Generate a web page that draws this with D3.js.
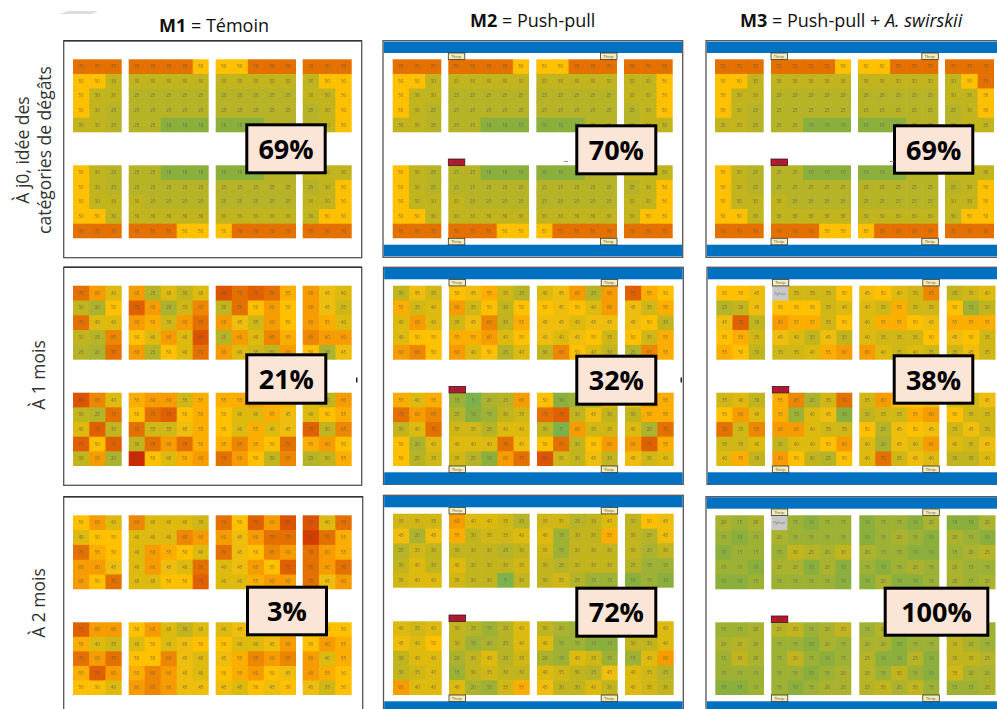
<!DOCTYPE html>
<html>
<head>
<meta charset="utf-8">
<script src="https://cdnjs.cloudflare.com/ajax/libs/d3/7.8.5/d3.min.js"></script>
<style>
    html, body { margin: 0; padding: 0; background: #fff; }
    svg { display: block; font-family: "Open Sans", sans-serif; }
</style>
</head>
<body>
<svg id="svg1" width="997" height="709"></svg>
<script>
// damage scores, 10 rows x 16 plants, null = plant replaced (Python)
var m1j0 = [
    [70,70,70, 70,70,70,70,50, 50,50,70,70,70, 70,70,70],
    [50,50,30, 30,30,30,30,30, 30,30,30,30,30, 30,50,50],
    [50,30,30, 25,25,25,25,25, 25,25,25,25,25, 30,30,50],
    [50,30,25, 25,25,25,25,25, 25,25,25,25,25, 25,30,50],
    [30,30,25, 25,25,10,10,10, 10,10,10,25,25, 25,30,50],
    [50,30,25, 25,25,10,10,10, 10,10,10,25,25, 30,30,30],
    [50,30,25, 25,25,25,25,25, 25,25,25,25,25, 25,30,50],
    [50,30,30, 30,25,25,25,25, 25,25,25,25,25, 30,30,50],
    [50,50,30, 30,30,30,30,30, 30,30,30,30,30, 30,50,50],
    [70,70,70, 70,70,70,50,50, 50,70,70,70,70, 70,70,70]
];
var m2j0 = [
    [70,70,70, 70,70,70,70,50, 50,50,70,70,70, 70,70,70],
    [50,50,30, 30,30,30,30,30, 30,30,30,30,30, 30,30,50],
    [50,30,30, 25,25,25,25,25, 25,25,25,25,25, 30,30,50],
    [50,30,25, 25,25,25,25,25, 25,25,25,25,25, 25,30,50],
    [30,30,25, 25,25,10,10,10, 10,10,10,25,25, 25,30,30],
    [50,30,25, 25,25,10,10,10, 10,10,10,25,25, 30,30,30],
    [50,30,25, 25,25,25,25,25, 25,25,25,25,25, 25,30,50],
    [50,30,30, 30,25,25,25,25, 25,25,25,25,25, 30,30,50],
    [50,50,30, 30,30,30,30,30, 30,30,30,30,30, 30,50,50],
    [70,70,70, 70,70,70,50,50, 50,70,70,70,70, 70,70,70]
];
var m3j0 = [
    [70,70,70, 70,70,70,70,50, 50,50,70,70,70, 70,70,70],
    [50,50,30, 30,30,30,30,30, 30,30,30,30,30, 30,50,70],
    [50,30,30, 25,25,25,25,25, 25,25,25,25,25, 30,30,50],
    [50,30,25, 25,25,25,25,25, 25,25,25,25,25, 25,30,50],
    [30,30,25, 25,25,10,10,10, 10,10,10,25,25, 25,30,30],
    [50,30,25, 25,25,10,10,10, 10,10,10,25,25, 30,30,30],
    [50,30,25, 25,25,25,25,25, 25,25,25,25,25, 25,30,50],
    [50,30,30, 30,25,25,25,25, 25,25,25,25,25, 30,30,50],
    [50,50,30, 30,30,30,30,30, 30,30,30,30,30, 30,50,50],
    [70,70,70, 70,70,70,50,50, 50,70,70,70,70, 70,70,70]
];
var m1mois1 = [
    [70,60,40, 60,25,40,30,40, 80,70,75,70,55, 60,45,40],
    [30,20,50, 75,60,20,35,65, 30,70,50,60,50, 60,45,35],
    [70,40,40, 60,55,35,60,70, 60,45,35,60,50, 60,55,40],
    [30,25,65, 50,40,60,40,80, 25,60,40,65,55, 65,60,60],
    [25,20,70, 60,25,50,40,70, 60,40,35,30,60, 50,20,45],
    [80,65,40, 55,60,60,35,55, 55,55,60,55,55, 40,30,60],
    [30,25,70, 50,70,75,50,55, 50,40,40,55,45, 40,50,55],
    [40,75,30, 70,35,35,45,55, 50,40,55,40,45, 75,30,65],
    [75,50,75, 30,70,60,70,55, 55,65,55,50,70, 55,60,50],
    [30,60,20, 90,50,40,55,60, 70,60,50,30,65, 25,30,55]
];
var m2mois1 = [
    [30,45,35, 50,45,55,35,25, 40,45,60,25,60, 75,55,50],
    [55,35,40, 60,35,50,30,50, 50,45,50,40,60, 45,35,55],
    [40,60,40, 35,45,65,30,55, 45,45,40,45,45, 45,50,30],
    [40,50,50, 55,55,60,40,50, 45,40,45,50,35, 50,35,55],
    [60,65,50, 60,40,50,25,40, 30,65,50,40,30, 25,65,55],
    [55,40,55, 15,5,20,25,60, 50,10,15,15,55, 45,60,55],
    [70,60,65, 25,10,15,30,35, 70,75,30,45,30, 30,55,55],
    [30,40,70, 35,35,25,40,40, 30,5,60,35,35, 40,20,70],
    [50,20,40, 40,40,40,70,45, 50,70,30,50,60, 60,75,55],
    [50,25,35, 35,25,10,60,70, 80,35,30,45,30, 45,35,40]
];
var m3mois1 = [
    [50,50,45, null,35,35,35,50, 45,50,40,35,65, 30,35,40],
    [25,30,45, 50,50,50,35,40, 40,35,55,35,35, 50,15,30],
    [45,75,30, 60,55,55,35,50, 40,55,55,50,45, 55,55,55],
    [50,55,35, 45,40,30,45,30, 40,35,35,35,50, 45,50,35],
    [55,50,30, 35,35,40,55,60, 60,40,35,40,35, 35,45,35],
    [35,40,30, 55,65,20,35,70, 35,60,50,50,45, 35,35,45],
    [50,60,40, 55,15,40,45,10, 30,35,35,55,60, 50,35,35],
    [70,35,65, 60,60,40,35,35, 50,25,45,50,45, 35,45,35],
    [35,35,40, 30,40,40,50,60, 40,20,45,40,60, 40,35,45],
    [40,55,30, 60,50,30,25,50, 40,70,35,45,40, 30,30,40]
];
var m1mois2 = [
    [50,60,40, 65,40,40,40,35, 70,50,75,60,80, 80,40,70],
    [40,50,50, 40,40,40,65,60, 60,45,60,70,70, 85,70,55],
    [70,55,50, 40,60,55,50,40, 70,45,50,65,60, 70,60,55],
    [60,60,45, 40,60,45,40,70, 40,45,60,50,75, 70,60,70],
    [60,50,70, 40,40,50,50,75, 40,40,55,60,60, 70,45,60],
    [75,60,60, 50,60,40,30,40, 40,45,50,50,50, 50,50,50],
    [55,40,35, 40,50,40,45,50, 50,40,40,45,60, 50,60,55],
    [70,60,70, 50,50,65,45,40, 45,55,65,60,65, 60,40,55],
    [55,75,60, 55,65,60,45,40, 50,55,60,50,45, 60,55,50],
    [50,50,40, 60,65,60,45,45, 45,40,50,45,50, 45,35,50]
];
var m2mois2 = [
    [35,35,35, 60,40,40,35,25, 35,35,25,30,40, 30,50,45],
    [45,20,45, 55,30,35,35,40, 40,15,30,30,55, 30,25,45],
    [25,35,30, 30,30,30,25,30, 35,15,30,30,30, 30,20,30],
    [30,40,30, 40,30,30,30,35, 30,25,30,30,30, 25,15,15],
    [35,40,40, 35,30,30,5,30, 30,35,25,15,15, 10,15,10],
    [40,35,40, 30,25,15,25,40, 30,20,15,15,15, 30,30,40],
    [45,40,50, 30,15,20,25,40, 40,15,15,10,10, 30,30,40],
    [30,40,40, 20,30,40,25,35, 20,15,40,35,15, 15,40,60],
    [30,35,40, 15,30,35,30,30, 40,35,30,25,45, 40,35,25],
    [60,40,40, 40,20,15,35,55, 45,30,30,40,30, 40,35,30]
];
var m3mois2 = [
    [20,15,20, null,15,10,15,15, 10,15,15,10,20, 10,10,20],
    [15,10,15, 20,15,15,15,15, 10,15,20,15,10, 20,15,10],
    [10,15,15, 15,30,25,20,30, 20,15,15,10,10, 15,20,25],
    [15,15,10, 20,20,10,20,10, 15,10,15,20,15, 20,15,15],
    [10,10,15, 15,15,15,15,10, 10,20,10,10,15, 20,15,20],
    [15,15,20, 25,30,15,20,30, 15,25,20,15,15, 15,20,15],
    [20,25,20, 15,15,10,20,15, 20,20,10,15,15, 30,20,15],
    [15,30,20, 15,30,15,10,15, 25,10,10,25,10, 30,30,25],
    [15,15,15, 15,15,10,15,20, 25,15,30,15,10, 35,20,20],
    [10,10,15, 15,10,15,20,20, 25,30,20,30,15, 15,15,20]
];

var columnTitles = [
    [['M1', 'bold'], [' = Témoin', 'normal']],
    [['M2', 'bold'], [' = Push-pull', 'normal']],
    [['M3', 'bold'], [' = Push-pull + ', 'normal'], ['A. swirskii', 'italic']]
];
var rowTitles = [['À j0, idée des', 'catégories de dégâts'], ['À 1 mois'], ['À 2 mois']];
var percents = ['69%', '70%', '69%', '21%', '32%', '38%', '3%', '72%', '100%'];
var grids = [m1j0, m2j0, m3j0, m1mois1, m2mois1, m3mois1, m1mois2, m2mois2, m3mois2];
var blockSizes = [3, 5, 5, 3];

var scoreDomain = [5, 10, 15, 25, 30, 40, 50, 60, 70, 80, 90];
var scoreColors = ['#7DB14B', '#8BAF3C', '#9DB135', '#B6B327', '#C2B41E', '#DDBA0F', '#FFC000',
    '#F69C00', '#E47000', '#DC5200', '#CB2A00'];

// where each of the nine plots sits on the page
var xM1 = [[73, 121.7], [128.7, 208.7], [215.7, 296], [302.7, 351.7]];
var xM2 = [[392.7, 441.3], [448.3, 529], [536.3, 617], [624, 672.7]];
var xM2b = [[393, 441.7], [449, 529.7], [537, 617.7], [625, 673.7]];
var xM3 = [[715, 763.7], [771, 851], [858, 938.3], [945, 994]];
var xM3b = [[716.3, 765], [772.3, 852.3], [859.3, 939.3], [946.7, 995.5]];
var xM3c = [[715.3, 764], [771.3, 851.3], [859.3, 939.3], [946.7, 995.5]];
var plots = [
    {frame: [63.7, 361.7, 40.7, 257.7], xs: xM1, ys: [[59.3, 132.3], [165.3, 238.3]], badge: [245.3, 326.7, 123.3, 174.3]},
    {frame: [383, 682.7, 40.7, 257.3], xs: xM2, ys: [[59.3, 132.3], [165.3, 238.3]], badge: [575.3, 657.3, 124.3, 175.3], blue: [[41.7, 53], [244.7, 256.3]]},
    {frame: [706, 1000, 40.7, 257.3], xs: xM3, ys: [[59.3, 132.3], [165.3, 238.3]], badge: [893, 974.3, 124.3, 174.7], blue: [[41.7, 53], [244.7, 256.3]]},
    {frame: [63.7, 361.7, 267.3, 485.3], xs: xM1, ys: [[285.7, 359.7], [392.7, 466]], badge: [245.3, 327.3, 353.3, 404.7]},
    {frame: [383.5, 683.3, 267.3, 484.3], xs: xM2b, ys: [[285.7, 359.7], [392.7, 466]], badge: [575.3, 657.3, 354.7, 405.7], blue: [[268, 279.3], [472.3, 484.3]]},
    {frame: [707, 1000, 267.3, 484.3], xs: xM3b, ys: [[285.7, 359.7], [392.7, 466]], badge: [892.7, 974.3, 354.3, 404.7], blue: [[268, 279.3], [472.3, 484.3]]},
    {frame: [63.7, 362.7, 496.7, 715], xs: xM1, ys: [[515.3, 589.3], [622.3, 695]], badge: [246, 328, 585.7, 636.3]},
    {frame: [383.5, 683.3, 495.3, 715], xs: xM2b, ys: [[513.7, 587.7], [621.3, 695]], badge: [575.3, 657.3, 586.7, 637.7], blue: [[496, 507.3], [701.3, 712]]},
    {frame: [706, 1000, 496.7, 715], xs: xM3c, ys: [[515.3, 589.3], [622.3, 695]], badge: [883.7, 989.3, 586.7, 636.7], blue: [[497.3, 508.7], [701.3, 712]]}
];

d3.select(window).on('load', init);

function init() {

    var svg = d3.select('svg');

    var color = d3.scaleLinear()
        .domain(scoreDomain)
        .range(scoreColors);

    // the source is a shrunken bitmap, cells bleed a little into each other
    svg.append('defs').append('filter')
        .attr('id', 'soft')
        .append('feGaussianBlur')
        .attr('stdDeviation', 0.45);

    plots.forEach(function (plot, i) {
        drawPlot(svg.append('g'), plot, grids[i], percents[i], color);
    });

    // column titles
    var titleX = [159, 470, 740];
    var titleY = [32, 27, 27];
    columnTitles.forEach(function (parts, i) {
        var t = svg.append('text')
            .attr('x', titleX[i])
            .attr('y', titleY[i])
            .attr('font-size', 18)
            .attr('fill', '#111');
        parts.forEach(function (p) {
            t.append('tspan')
                .attr('xml:space', 'preserve')
                .attr('font-weight', p[1] === 'bold' ? 700 : 400)
                .attr('font-style', p[1] === 'italic' ? 'italic' : 'normal')
                .text(p[0]);
        });
    });

    // row titles
    var rowY = [150, 375, 603];
    rowTitles.forEach(function (lines, i) {
        var t = svg.append('text')
            .attr('transform', 'translate(' + (lines.length > 1 ? 29 : 45) + ',' + rowY[i] + ') rotate(-90)')
            .attr('text-anchor', 'middle')
            .attr('font-size', 17.5)
            .attr('fill', '#333');
        lines.forEach(function (line, k) {
            t.append('tspan')
                .attr('x', 0)
                .attr('dy', k === 0 ? 0 : 22)
                .text(line);
        });
    });

    // scraps left over in the source image
    svg.append('path').attr('d', 'M60,14L68,11L98,11L92,14Z').attr('fill', '#ddd');
    [[356, 380], [680.5, 380]].forEach(function (p) {
        svg.append('rect').attr('x', p[0]).attr('y', p[1] - 2.5).attr('width', 1.5).attr('height', 5).attr('fill', '#222');
    });
    [[564, 161], [890, 161]].forEach(function (p) {
        svg.append('rect').attr('x', p[0]).attr('y', p[1]).attr('width', 4).attr('height', 0.8).attr('fill', '#777');
    });
}

function drawPlot(g, plot, grid, percent, color) {
    var f = plot.frame;

    g.append('rect')
        .attr('x', f[0])
        .attr('y', f[2])
        .attr('width', f[1] - f[0])
        .attr('height', f[3] - f[2])
        .attr('fill', '#fff')
        .attr('stroke', '#555')
        .attr('stroke-width', 1.3);

    if (plot.blue) {
        plot.blue.forEach(function (b) {
            g.append('rect')
                .attr('x', f[0] + 0.7)
                .attr('y', b[0])
                .attr('width', f[1] - f[0] - 1.4)
                .attr('height', b[1] - b[0])
                .attr('fill', '#0070C0');
        });
    } else {
        // témoin frame has a heavier top edge
        g.append('line').attr('x1', f[0]).attr('x2', f[1]).attr('y1', f[2]).attr('y2', f[2])
            .attr('stroke', '#333').attr('stroke-width', 1.5);
    }

    var cells = g.append('g').attr('filter', 'url(#soft)');

    plot.ys.forEach(function (yRange, half) {
        var y = d3.scaleBand().domain(d3.range(5)).range(yRange);
        var start = 0;
        blockSizes.forEach(function (size, b) {
            var x = d3.scaleBand().domain(d3.range(size)).range(plot.xs[b]);
            var rows = grid.slice(half * 5, half * 5 + 5);
            var data = [];
            rows.forEach(function (row, r) {
                row.slice(start, start + size).forEach(function (v, c) {
                    data.push({r: r, c: c, v: v});
                });
            });

            cells.selectAll(null)
                .data(data)
                .enter()
                .append('rect')
                .attr('x', function (d) { return x(d.c); })
                .attr('y', function (d) { return y(d.r); })
                .attr('width', function (d) { return x.bandwidth() + (d.c < size - 1 ? 0.6 : 0); })
                .attr('height', function (d) { return y.bandwidth() + (d.r < 4 ? 0.6 : 0); })
                .attr('fill', function (d) { return d.v === null ? '#C8C8C8' : color(d.v); });

            cells.selectAll(null)
                .data(data)
                .enter()
                .append('text')
                .attr('x', function (d) { return x(d.c) + x.bandwidth() / 2; })
                .attr('y', function (d) { return y(d.r) + y.bandwidth() / 2 + 1.5; })
                .attr('text-anchor', 'middle')
                .attr('font-size', function (d) { return d.v === null ? 3.6 : 4.4; })
                .attr('fill', '#555')
                .attr('fill-opacity', 0.75)
                .text(function (d) { return d.v === null ? 'Python' : d.v; });

            start += size;
        });
    });

    if (plot.blue) {
        var tagLeft = plot.xs[1][0];
        var tagRight = plot.xs[2][1] - 16.5;
        var top = plot.ys[0][0] - 6.3;
        var bottom = plot.ys[1][1];
        drawTag(g, tagLeft, top, 'Thrip.', '#F6EDB8', '#333');
        drawTag(g, tagRight, top, 'Thrip.', '#F6EDB8', '#333');
        drawTag(g, tagLeft, bottom, 'Thrip.', '#F6EDB8', '#333');
        drawTag(g, tagRight, bottom, 'Thrip.', '#F6EDB8', '#333');
        drawTag(g, tagLeft, plot.ys[1][0] - 6.3, 'MAC', '#C8102E', '#222');
    }

    var b = plot.badge;
    g.append('rect')
        .attr('x', b[0] + 1.5)
        .attr('y', b[2] + 1.5)
        .attr('width', b[1] - b[0] - 3)
        .attr('height', b[3] - b[2] - 3)
        .attr('fill', '#FBE5D6')
        .attr('stroke', '#000')
        .attr('stroke-width', 3);

    g.append('text')
        .attr('x', (b[0] + b[1]) / 2)
        .attr('y', (b[2] + b[3]) / 2 + 10)
        .attr('text-anchor', 'middle')
        .attr('font-size', 27)
        .attr('font-weight', 700)
        .attr('fill', '#000')
        .text(percent);
}

function drawTag(g, x, y, label, fill, stroke) {
    g.append('rect')
        .attr('x', x)
        .attr('y', y)
        .attr('width', 16.5)
        .attr('height', 6.5)
        .attr('fill', fill)
        .attr('stroke', stroke)
        .attr('stroke-width', 0.8);
    g.append('text')
        .attr('x', x + 8.25)
        .attr('y', y + 4.8)
        .attr('text-anchor', 'middle')
        .attr('font-size', 4)
        .attr('fill', '#444')
        .text(label);
}
</script>
</body>
</html>
